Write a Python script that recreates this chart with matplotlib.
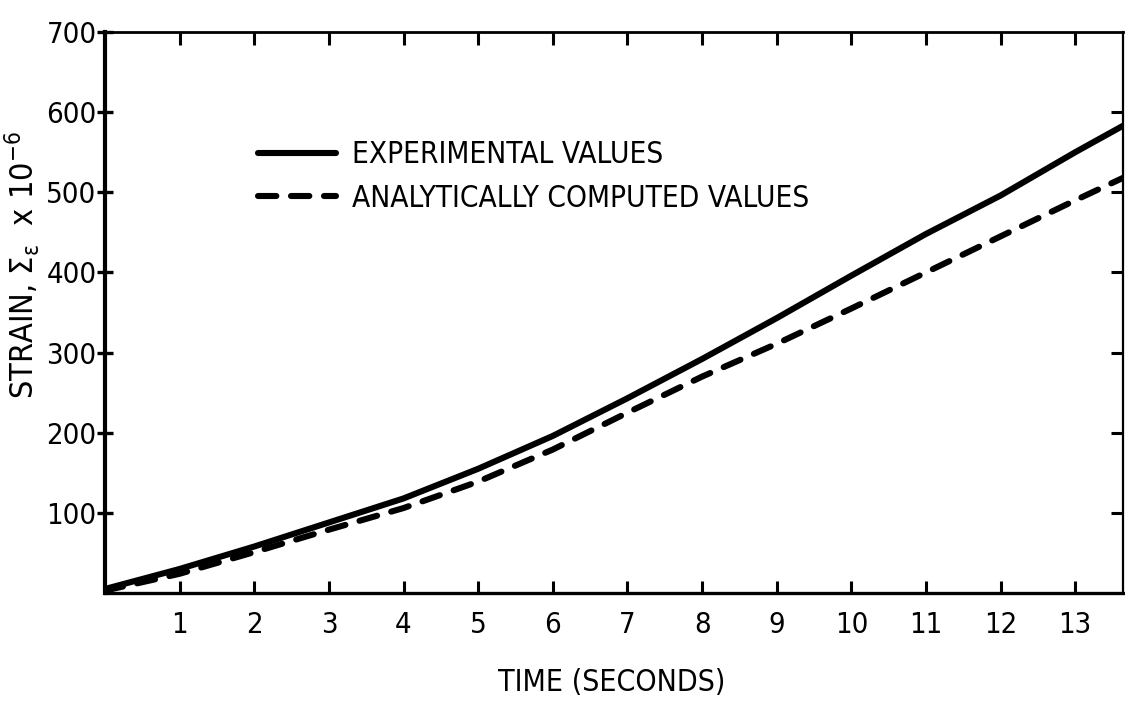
import matplotlib
matplotlib.use("Agg")
import matplotlib.pyplot as plt
from matplotlib import font_manager

# ---- data ----
time_s = [0, 1, 2, 3, 4, 5, 6, 7, 8, 9, 10, 11, 12, 13, 13.64]
experimental = [5, 30, 58, 88, 118, 155, 196, 243, 292, 343, 396, 448, 496, 550, 583]
analytical = [3, 24, 51, 79, 106, 139, 179, 225, 270, 311, 355, 400, 445, 490, 518]

x_ticks = list(range(1, 14))
x_tick_labels = [str(v) for v in x_ticks]
y_ticks = [100, 200, 300, 400, 500, 600, 700]
y_tick_labels = [str(v) for v in y_ticks]
right_ticks = [100, 200, 300, 400, 500, 600]

series_labels = ["EXPERIMENTAL VALUES", "ANALYTICALLY COMPUTED VALUES"]
x_label = "TIME (SECONDS)"
y_label = r"STRAIN, $\mathrm{\Sigma_{\varepsilon}}$  x 10$^{-6}$"

# ---- choose a narrow font if one is installed ----
entries = font_manager.fontManager.ttflist
names = {f.name for f in entries}
condensed = {f.name for f in entries
             if str(f.stretch) in ("condensed", "semi-condensed", "extra-condensed")}
if "Liberation Sans Narrow" in names:
    fam, stretch = "Liberation Sans Narrow", "normal"
elif "DejaVu Sans" in condensed:
    fam, stretch = "DejaVu Sans", "condensed"
elif "Roboto Condensed" in names:
    fam, stretch = "Roboto Condensed", "normal"
else:
    fam, stretch = "Roboto", "normal"

plt.rcParams["font.family"] = [fam, "DejaVu Sans"]
plt.rcParams["font.stretch"] = stretch
plt.rcParams["mathtext.fontset"] = "custom"
plt.rcParams["mathtext.rm"] = fam
plt.rcParams["mathtext.it"] = fam
plt.rcParams["mathtext.bf"] = fam

fig = plt.figure(figsize=(11.25, 7.05), dpi=100)
renderer = fig.canvas.get_renderer()


def fit_size(s, target_px, ref=20.0):
    t = fig.text(0, 0, s, fontsize=ref)
    w = t.get_window_extent(renderer).width
    t.remove()
    return ref * target_px / w


tick_fs = fit_size("600", 50)
leg_fs = fit_size(series_labels[0], 312)
xl_fs = fit_size(x_label, 228)
yl_fs = fit_size(y_label, 268)

ax = fig.add_axes([105 / 1125, 1 - 593 / 705, (1123 - 105) / 1125, (593 - 32) / 705])

ax.plot(time_s, experimental, color="black", lw=4.4, solid_capstyle="round",
        label=series_labels[0])
ax.plot(time_s, analytical, color="black", lw=4.4, dashes=(3.0, 2.4),
        dash_capstyle="round", label=series_labels[1])

ax.set_xlim(0, 13.64)
ax.set_ylim(0, 700)

ax.set_xticks(x_ticks)
ax.set_xticklabels(x_tick_labels, fontsize=tick_fs)
ax.set_yticks(y_ticks)
ax.set_yticklabels(y_tick_labels, fontsize=tick_fs)

for side, s in ax.spines.items():
    s.set_linewidth({"left": 3.0, "bottom": 2.4, "top": 2.0, "right": 1.6}[side])

ax.tick_params(axis="x", which="both", direction="in", top=True, bottom=True,
               length=9, width=2.2, pad=13)
ax.tick_params(axis="y", which="both", direction="inout", left=True, right=False,
               length=12, width=2.4, pad=0)

axr = ax.twinx()
axr.set_ylim(ax.get_ylim())
axr.set_yticks(right_ticks)
axr.set_yticklabels([])
axr.tick_params(axis="y", direction="in", length=9, width=2.2)
for s in axr.spines.values():
    s.set_visible(False)

H = 593 - 32
ax.set_xlabel(x_label, fontsize=xl_fs)
ax.xaxis.set_label_coords((612 - 105) / 1018, (593 - 668) / H)
ax.set_ylabel(y_label, fontsize=yl_fs)
ax.yaxis.set_label_coords((42 - 105) / 1018, (593 - 265) / H)

px = leg_fs * 100 / 72
ax.legend(loc="upper left", bbox_to_anchor=((258 - 105) / 1018, (593 - 140) / H),
          frameon=False, fontsize=leg_fs, handlelength=78 / px,
          handletextpad=16 / px, labelspacing=0.5, borderaxespad=0, borderpad=0)

fig.savefig("out.png", dpi=100)
